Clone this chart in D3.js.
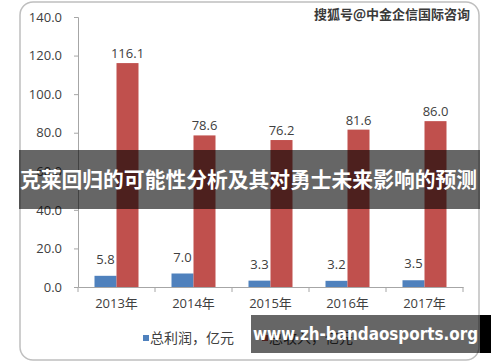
<!DOCTYPE html>
<html>
<head>
<meta charset="utf-8">
<script src="https://cdn.jsdelivr.net/npm/d3@7"></script>
<style>
  body { margin: 0; background: #fff; }
  svg { display: block; }
</style>
</head>
<body>
<svg class="chart_svg" width="500" height="362"></svg>
<script>
var years = ["2013年", "2014年", "2015年", "2016年", "2017年"];
var profit = [5.8, 7.0, 3.3, 3.2, 3.5];
var revenue = [116.1, 78.6, 76.2, 81.6, 86.0];
var yTicks = [0, 20, 40, 60, 80, 100, 120, 140];
var seriesNames = ["总利润，亿元", "总收入，亿元"];
var colors = ["#4f81bd", "#c0504d"];

var svg = d3.select("svg.chart_svg");
var font = "'Open Sans', 'Noto Sans CJK SC', sans-serif";

// rounded frame
svg.append("rect")
   .attr("x", 20).attr("y", 2)
   .attr("width", 459).attr("height", 358)
   .attr("rx", 13)
   .attr("fill", "#fff")
   .attr("stroke", "#bfbfbf")
   .attr("stroke-width", 1.5);

var y = d3.scaleLinear().domain([0, 140]).range([287, 17]);
var x = d3.scaleBand().domain(years).range([78, 463]);
var barW = 22;

// y axis
var yAxis = svg.append("g")
   .attr("transform", "translate(78,0)")
   .call(d3.axisLeft(y).tickValues(yTicks).tickFormat(d3.format(".1f")).tickSize(4).tickPadding(12));
yAxis.select(".domain").attr("stroke", "#a6a6a6");
yAxis.selectAll(".tick line").attr("stroke", "#a6a6a6");
yAxis.selectAll("text")
     .attr("fill", "#404040")
     .style("font-family", font)
     .style("font-size", "13px");

// x axis
var xAxis = svg.append("g")
   .attr("transform", "translate(0,287)")
   .call(d3.axisBottom(x).tickSize(0).tickPadding(12));
xAxis.select(".domain").attr("stroke", "#a6a6a6");
xAxis.selectAll("text")
     .attr("fill", "#404040")
     .style("font-family", font)
     .style("font-size", "13px");
// boundary ticks between categories
var bounds = years.map(function(d) { return x(d); }).concat([x.range()[1]]);
svg.selectAll("line.xb")
   .data(bounds)
   .enter()
   .append("line")
   .attr("class", "xb")
   .attr("x1", function(d) { return d; })
   .attr("x2", function(d) { return d; })
   .attr("y1", 287).attr("y2", 292)
   .attr("stroke", "#a6a6a6");

var series = [profit, revenue];
series.forEach(function(vals, si) {
  var g = svg.append("g");
  g.selectAll("rect")
   .data(vals)
   .enter()
   .append("rect")
   .attr("x", function(d, i) { return x(years[i]) + x.bandwidth() / 2 - barW + si * barW; })
   .attr("y", function(d) { return y(d); })
   .attr("width", barW)
   .attr("height", function(d) { return y(0) - y(d); })
   .attr("fill", colors[si]);
  g.selectAll("text")
   .data(vals)
   .enter()
   .append("text")
   .attr("x", function(d, i) { return x(years[i]) + x.bandwidth() / 2 - barW / 2 + si * barW; })
   .attr("y", function(d) { return y(d) - (si === 0 ? 12 : 5); })
   .attr("text-anchor", "middle")
   .attr("fill", "#404040")
   .style("font-family", font)
   .style("font-size", "13px")
   .text(function(d) { return d.toFixed(1); });
});

// legend
var legX = [143, 262];
seriesNames.forEach(function(name, i) {
  svg.append("rect")
     .attr("x", legX[i]).attr("y", 335)
     .attr("width", 6).attr("height", 6)
     .attr("fill", colors[i]);
  svg.append("text")
     .attr("x", legX[i] + 7).attr("y", 343)
     .attr("fill", "#404040")
     .style("font-family", font)
     .style("font-size", "14px")
     .text(name);
});

// top-right source mark
svg.append("text")
   .attr("x", 470).attr("y", 19)
   .attr("text-anchor", "end")
   .attr("fill", "#3a3a3a")
   .attr("stroke", "#fff")
   .attr("stroke-width", 2)
   .attr("paint-order", "stroke")
   .style("font-family", "'Noto Sans CJK SC', sans-serif")
   .style("font-weight", "bold")
   .style("font-size", "13px")
   .text("搜狐号@中金企信国际咨询");

// title overlay band
svg.append("rect")
   .attr("x", 19).attr("y", 150)
   .attr("width", 461).attr("height", 59)
   .attr("fill", "rgba(0,0,0,0.6)");
svg.append("text")
   .attr("x", 20).attr("y", 187)
   .attr("fill", "#fff")
   .attr("textLength", 457)
   .attr("lengthAdjust", "spacingAndGlyphs")
   .style("font-family", "'Noto Sans CJK SC', sans-serif")
   .style("font-weight", "bold")
   .style("font-size", "21px")
   .text("克莱回归的可能性分析及其对勇士未来影响的预测");

// bottom site band
svg.append("rect")
   .attr("x", 251).attr("y", 315)
   .attr("width", 229).attr("height", 38)
   .attr("fill", "rgba(0,0,0,0.6)");
svg.append("rect")
   .attr("x", 480).attr("y", 315)
   .attr("width", 11).attr("height", 38)
   .attr("fill", "#000");
svg.append("text")
   .attr("x", 253).attr("y", 340)
   .attr("fill", "#fff")
   .attr("textLength", 225)
   .attr("lengthAdjust", "spacingAndGlyphs")
   .style("font-family", "'DejaVu Sans', sans-serif")
   .style("font-weight", "bold")
   .style("font-size", "17px")
   .text("www.zh-bandaosports.org");
</script>
</body>
</html>
